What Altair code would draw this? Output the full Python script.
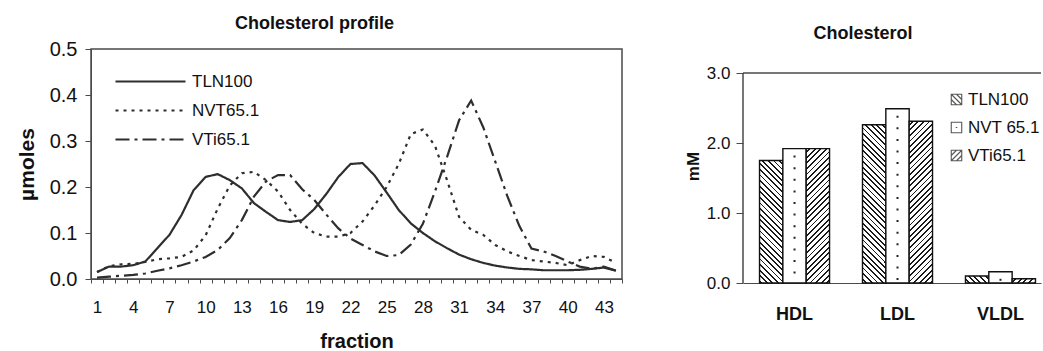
import math
import altair as alt
import pandas as pd

# ---------------- data ----------------
fractions = list(range(1, 45))
series_names = ["TLN100", "NVT65.1", "VTi65.1"]

tln100 = [0.015, 0.027, 0.027, 0.030, 0.038, 0.067, 0.096, 0.139, 0.193, 0.222,
          0.228, 0.215, 0.197, 0.165, 0.146, 0.128, 0.124, 0.128, 0.152, 0.185,
          0.222, 0.250, 0.252, 0.225, 0.188, 0.150, 0.121, 0.100, 0.082, 0.067,
          0.053, 0.043, 0.035, 0.029, 0.025, 0.022, 0.021, 0.019, 0.019, 0.019,
          0.020, 0.022, 0.025, 0.018]
nvt651 = [0.015, 0.028, 0.032, 0.033, 0.037, 0.043, 0.045, 0.048, 0.062, 0.095,
          0.153, 0.203, 0.230, 0.233, 0.215, 0.190, 0.150, 0.120, 0.100, 0.092,
          0.092, 0.100, 0.125, 0.160, 0.200, 0.250, 0.315, 0.325, 0.290, 0.215,
          0.135, 0.107, 0.096, 0.074, 0.060, 0.050, 0.041, 0.038, 0.035, 0.030,
          0.041, 0.050, 0.048, 0.035]
vti651 = [0.003, 0.005, 0.007, 0.009, 0.012, 0.018, 0.023, 0.030, 0.038, 0.048,
          0.063, 0.089, 0.128, 0.179, 0.212, 0.226, 0.226, 0.195, 0.172, 0.140,
          0.110, 0.088, 0.074, 0.060, 0.050, 0.052, 0.075, 0.120, 0.190, 0.265,
          0.345, 0.388, 0.330, 0.255, 0.180, 0.115, 0.066, 0.060, 0.050, 0.038,
          0.027, 0.022, 0.027, 0.018]

bar_cats = ["HDL", "LDL", "VLDL"]
bar_series = ["TLN100", "NVT 65.1", "VTi65.1"]
bar_tln100 = [1.75, 2.26, 0.10]
bar_nvt651 = [1.92, 2.49, 0.16]
bar_vti651 = [1.92, 2.31, 0.06]

FONT = "Liberation Sans"
INK = "#2e2e2e"
FRAME = "#4a4a4a"
TXT = "#111111"

# ---------------- left chart: profile ----------------
rows = []
for name, vals in zip(series_names, [tln100, nvt651, vti651]):
    for f, v in zip(fractions, vals):
        rows.append({"fraction": f, "series": name, "value": v})
df_line = pd.DataFrame(rows)

LW, LH = 531, 230
lines = alt.Chart(df_line).mark_line(color=INK, strokeWidth=2.2, strokeCap="butt").encode(
    x=alt.X("fraction:O",
            scale=alt.Scale(type="band", paddingInner=0, paddingOuter=0),
            axis=alt.Axis(title="fraction", labelAngle=0,
                          labelExpr="(datum.value - 1) % 3 == 0 ? datum.label : ''",
                          tickBand="extent", tickSize=4, tickColor=FRAME,
                          domainColor=FRAME, labelFontSize=17, labelPadding=16,
                          labelColor=TXT, titleFontSize=20, titleFontWeight="bold",
                          titlePadding=16, titleColor=TXT)),
    y=alt.Y("value:Q", scale=alt.Scale(domain=[0, 0.5], nice=False),
            axis=alt.Axis(title="µmoles", values=[0, 0.1, 0.2, 0.3, 0.4, 0.5],
                          format=".1f", grid=False, tickSize=6, tickColor=FRAME,
                          domainColor=FRAME, labelFontSize=20, labelPadding=8,
                          labelColor=TXT, titleFontSize=21, titleFontWeight="bold",
                          titlePadding=12, titleColor=TXT)),
    strokeDash=alt.StrokeDash(
        "series:N", sort=series_names,
        scale=alt.Scale(domain=series_names, range=[[1, 0], [3, 5], [14, 5, 3, 5]]),
        legend=alt.Legend(title=None, orient="none", legendX=16, legendY=24,
                          symbolType="M0,0H14", symbolSize=100,
                          symbolStrokeWidth=2, symbolStrokeColor=INK,
                          labelOffset=68, labelFontSize=17, labelColor=TXT,
                          rowPadding=11, padding=0)),
    order=alt.Order("fraction:Q"),
).properties(
    width=LW, height=LH,
    title=alt.TitleParams("Cholesterol profile", fontSize=18, fontWeight="bold",
                          anchor="middle", dx=-42, offset=6, color=TXT),
    view=alt.ViewBackground(stroke=FRAME, strokeWidth=1.5),
)

# ---------------- right chart: bars ----------------
brows = []
for s, vals in zip(bar_series, [bar_tln100, bar_nvt651, bar_vti651]):
    for c, v in zip(bar_cats, vals):
        brows.append({"cat": c, "series": s, "value": v})
df_bar = pd.DataFrame(brows)

RW = 298
RH = 234            # plot area also covers the band above the 3.0 line
Y_TOP = 3.0 * RH / 210.0
PX_PER_UNIT = RH / Y_TOP
STEP = 103.0
BAR_W = STEP * (1 - 0.32) / 3


def hatch(w, h, direction, period=5.6, thick=1.3):
    L = w + h
    k = L / (w * w + h * h)
    if direction == "back":
        x1, y1, x2, y2 = 1, 0, 1 - k * w, k * h
    else:
        x1, y1, x2, y2 = 0, 0, k * w, k * h
    tl = thick * math.sqrt(2) / L
    step = period / L
    stops = []
    pos = step / 2
    while pos < 1:
        a = round(pos, 5)
        b = round(min(pos + tl, 1), 5)
        stops += [{"offset": a, "color": "white"}, {"offset": a, "color": "#1a1a1a"},
                  {"offset": b, "color": "#1a1a1a"}, {"offset": b, "color": "white"}]
        pos += step
    stops = [{"offset": 0, "color": "white"}] + stops + [{"offset": 1, "color": "white"}]
    return {"gradient": "linear", "x1": x1, "y1": y1, "x2": x2, "y2": y2, "stops": stops}


conds = []
for s, vals, d in [("TLN100", bar_tln100, "back"), ("VTi65.1", bar_vti651, "fwd")]:
    for c, v in zip(bar_cats, vals):
        conds.append({"test": f"datum.cat === '{c}' && datum.series === '{s}'",
                      "value": hatch(BAR_W, max(v * PX_PER_UNIT, 1), d)})

xenc = alt.X("cat:N", sort=bar_cats,
             scale=alt.Scale(paddingInner=0.32, paddingOuter=0.107, align=0.75),
             axis=alt.Axis(title=None, labelAngle=0, labelFontWeight="bold",
                           labelFontSize=18, labelPadding=22, ticks=False,
                           domainColor=FRAME, labelColor=TXT))
xoff = alt.XOffset("series:N", sort=bar_series,
                   scale=alt.Scale(paddingInner=0, paddingOuter=0))
yscale = alt.Scale(domain=[0, Y_TOP], nice=False)
yenc = alt.Y("value:Q", scale=yscale,
             axis=alt.Axis(title="mM", values=[0, 1, 2, 3], format=".1f", grid=False,
                           domain=False, tickSize=7, tickColor=FRAME,
                           labelFontSize=17, labelPadding=6, labelColor=TXT,
                           titleFontSize=17, titleFontWeight="bold", titlePadding=4,
                           titleColor=TXT))

shape_paths = [
    "M-1,-1H1V1H-1Z M-1,-1L1,1 M-1,0L0,1 M0,-1L1,0",
    "M-1,-1H1V1H-1Z M-0.15,0H0.15",
    "M-1,-1H1V1H-1Z M-1,1L1,-1 M-1,0L0,-1 M0,1L1,0",
]

bars = alt.Chart(df_bar).mark_bar(stroke="#111", strokeWidth=1.4).encode(
    x=xenc, xOffset=xoff, y=yenc,
    fill=alt.FillValue("white", condition=conds),
)

dots = alt.Chart(df_bar).transform_filter("datum.series === 'NVT 65.1'").mark_rule(
    color="#222", strokeWidth=2, strokeDash=[2, 9.6], strokeDashOffset=-7).encode(
    x=xenc, xOffset=xoff, y=yenc, y2=alt.datum(0),
)

frame_df = pd.DataFrame({"k": [0]})
top_line = alt.Chart(frame_df).mark_rule(color=FRAME, strokeWidth=1.5).encode(
    x=alt.value(0), x2=alt.value(RW), y=alt.datum(3, scale=yscale))
left_line = alt.Chart(frame_df).mark_rule(color=FRAME, strokeWidth=1.5).encode(
    x=alt.value(0), y=alt.datum(0, scale=yscale), y2=alt.datum(3))

# legend carrier: no marks drawn (filtered out), legend comes from the scale domain
legend_pts = alt.Chart(df_bar).transform_filter("datum.value < 0").mark_point(
    filled=False, color="#111", strokeWidth=1.1, size=110).encode(
    x=xenc, xOffset=xoff, y=yenc,
    shape=alt.Shape("series:N", sort=bar_series,
                    scale=alt.Scale(domain=bar_series, range=shape_paths),
                    legend=alt.Legend(title=None, orient="none", legendX=205, legendY=42,
                                      symbolSize=110, symbolStrokeColor="#111",
                                      symbolStrokeWidth=1.1, labelFontSize=17,
                                      labelOffset=3, labelColor=TXT, rowPadding=10,
                                      padding=0)),
)

right = alt.layer(bars, dots, top_line, left_line, legend_pts).properties(
    width=RW, height=RH,
    title=alt.TitleParams("Cholesterol", fontSize=18, fontWeight="bold",
                          anchor="middle", dx=-29, offset=6, color=TXT),
)

chart = alt.hconcat(lines, right, spacing=59).resolve_legend(
    strokeDash="independent", shape="independent"
).properties(
    padding={"left": 15, "top": 14, "right": 0, "bottom": 0}
).configure(font=FONT).configure_view(stroke="transparent")

chart.save("out.html", embed_options={"renderer": "svg", "actions": False})
